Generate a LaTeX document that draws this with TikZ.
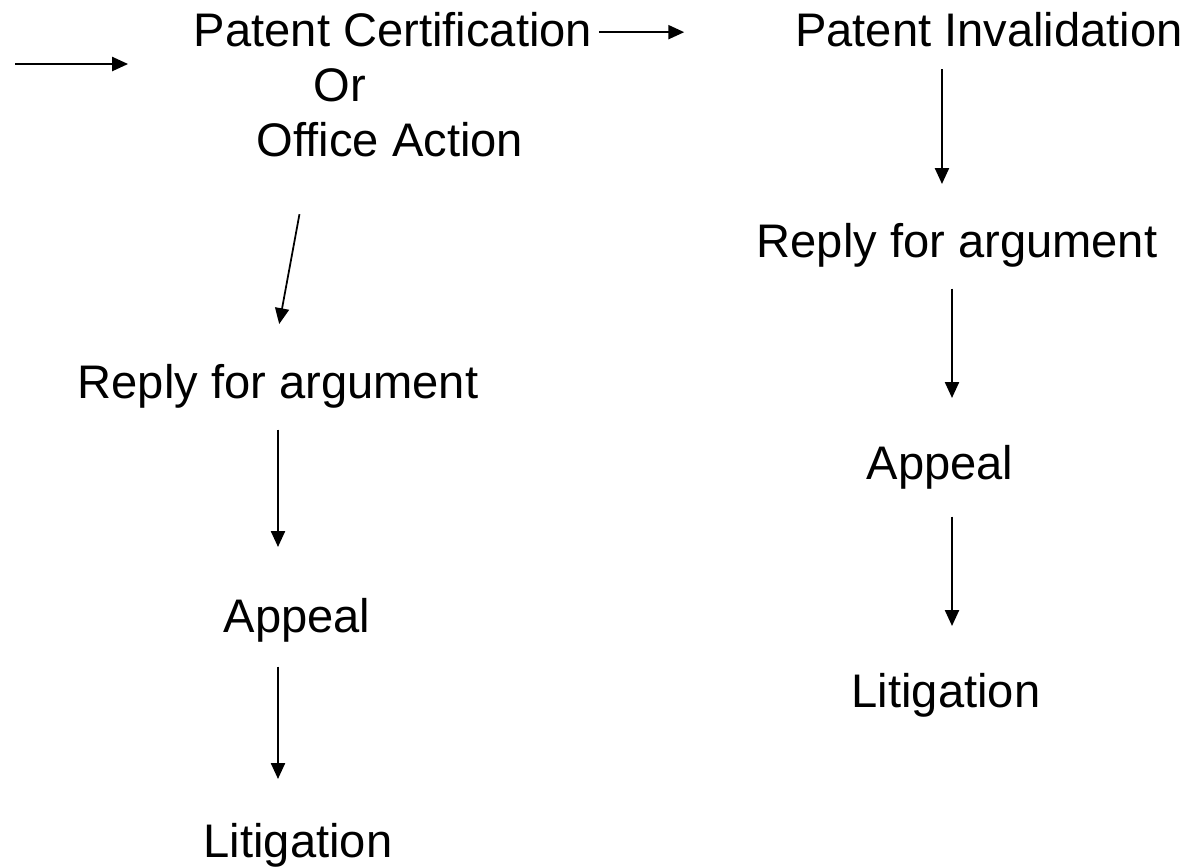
\documentclass[tikz,border=0pt]{standalone}
\usepackage{fontspec}
\setmainfont{Liberation Sans}
\usetikzlibrary{positioning,arrows.meta}
\tikzstyle{stage}=[inner sep=0pt,anchor=base,font=\fontsize{13.4pt}{16pt}\selectfont]
\newcommand{\newStage}[3]{\node[stage](#1) at (#3) {#2};}
\newcommand{\newLink}[4]{\draw[->,shorten <=#3,shorten >=#4] (#1) -- (#2);}

\begin{document}
\begin{tikzpicture}[x=0.01cm,y=-0.01cm,
      >={Triangle[length=4.5pt,width=4pt]},
      line width=0.5pt  %thin semithick
      ]
      \useasboundingbox (0,0) rectangle (1203,866);
      % left column
      \newStage{cert}{Patent Certification}{393,46}
      \newStage{or}{Or}{340,101}
      \newStage{office}{Office Action}{390,156}
      \newStage{replyL}{Reply for argument}{278,398}
      \newStage{appealL}{Appeal}{297,632}
      \newStage{litL}{Litigation}{298,857}
      % right column
      \newStage{inval}{Patent Invalidation}{989,46}
      \newStage{replyR}{Reply for argument}{957,257}
      \newStage{appealR}{Appeal}{940,479}
      \newStage{litR}{Litigation}{946,707}

      \coordinate (in) at (15,64);
      \newLink{in}{cert.west |- in}{0pt}{0.65cm}
      \newLink{[yshift=-0.03cm]cert.east}{[yshift=-0.03cm]inval.west}{0.06cm}{1.1cm}
      \newLink{[xshift=-0.8cm]office.south}{[xshift=-0.06cm]replyL.north}{0.578cm}{0.396cm}
      \newLink{replyL.south}{replyL.south |- appealL.north}{0.21cm}{0.5cm}
      \newLink{replyL.south |- appealL.south}{replyL.south |- litL.north}{0.24cm}{0.43cm}
      \newLink{[xshift=-0.47cm]inval.south}{[xshift=-0.47cm]inval.south |- replyR.north}{0.22cm}{0.38cm}
      \newLink{[xshift=-0.05cm]replyR.south}{[xshift=-0.05cm]replyR.south |- appealR.north}{0.21cm}{0.46cm}
      \newLink{[xshift=-0.05cm]replyR.south |- appealR.south}{[xshift=-0.05cm]replyR.south |- litR.north}{0.27cm}{0.46cm}
\end{tikzpicture}
\end{document}
